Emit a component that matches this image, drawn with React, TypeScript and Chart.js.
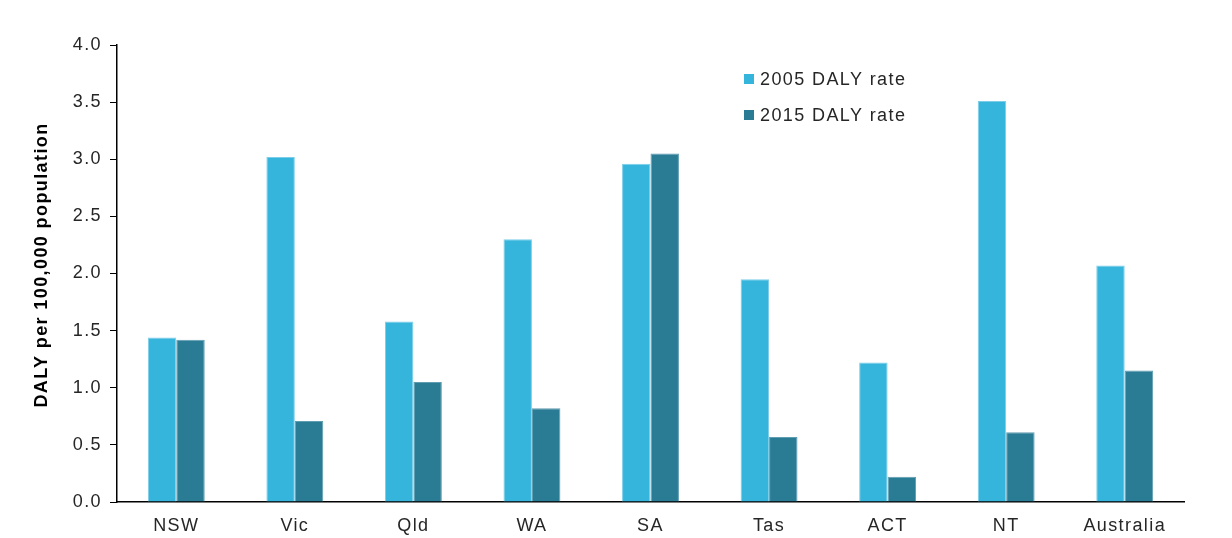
import React, { useEffect, useRef } from "react";
import { Chart, registerables } from "chart.js";

Chart.register(...registerables);

const categories = ["NSW", "Vic", "Qld", "WA", "SA", "Tas", "ACT", "NT", "Australia"];
const rate2005 = [1.44, 3.02, 1.58, 2.30, 2.96, 1.95, 1.22, 3.51, 2.07];
const rate2015 = [1.42, 0.71, 1.05, 0.82, 3.05, 0.57, 0.22, 0.61, 1.15];
const seriesLabels = ["2005 DALY rate", "2015 DALY rate"];
const yTitle = "DALY per 100,000 population";

const FONT = "'Liberation Sans', Arial, sans-serif";
const SPACING = "1.4px";
const FS = 18;
const TEXT = "#262626";
const C2005 = "#35b4dc";
const C2015 = "#2a7c95";

const spacingPlugin = {
  id: "spacing",
  afterInit(chart: any) { chart.ctx.letterSpacing = SPACING; },
  beforeUpdate(chart: any) { chart.ctx.letterSpacing = SPACING; },
  beforeLayout(chart: any) { chart.ctx.letterSpacing = SPACING; },
  beforeDraw(chart: any) { chart.ctx.letterSpacing = SPACING; },
};

const extrasPlugin = {
  id: "extras",
  afterDraw(chart: any) {
    const ctx = chart.ctx;
    ctx.save();
    ctx.letterSpacing = SPACING;
    // legend
    const colors = [C2005, C2015];
    const rowsY = [79, 115];
    ctx.font = `${FS}px ${FONT}`;
    ctx.textBaseline = "middle";
    ctx.textAlign = "left";
    seriesLabels.forEach((lab, i) => {
      ctx.fillStyle = colors[i];
      ctx.fillRect(744, rowsY[i] - 5, 10, 10);
      ctx.fillStyle = TEXT;
      ctx.fillText(lab, 760, rowsY[i] + 1);
    });
    // y-axis title
    ctx.translate(42, 265);
    ctx.rotate(-Math.PI / 2);
    ctx.font = `bold ${FS}px ${FONT}`;
    ctx.textAlign = "center";
    ctx.textBaseline = "middle";
    ctx.fillStyle = "#000";
    ctx.fillText(yTitle, 0, 0);
    ctx.restore();
  },
};

export default function App() {
  const ref = useRef<HTMLCanvasElement | null>(null);
  useEffect(() => {
    document.body.style.margin = "0";
    Chart.defaults.font.family = FONT;
    Chart.defaults.font.size = FS;
    Chart.defaults.color = TEXT;
    const chart = new Chart(ref.current as HTMLCanvasElement, {
      type: "bar",
      data: {
        labels: categories,
        datasets: [
          {
            label: seriesLabels[0],
            data: rate2005,
            backgroundColor: C2005,
            borderColor: "#7ccde9",
            borderWidth: 1,
            borderSkipped: "bottom",
            categoryPercentage: 0.48,
            barPercentage: 1.0,
          },
          {
            label: seriesLabels[1],
            data: rate2015,
            backgroundColor: C2015,
            borderColor: "#5f9db1",
            borderWidth: 1,
            borderSkipped: "bottom",
            categoryPercentage: 0.48,
            barPercentage: 1.0,
          },
        ],
      },
      options: {
        responsive: false,
        animation: false,
        devicePixelRatio: 1,
        layout: { padding: { top: 45, right: 48, left: 0, bottom: 0 } },
        plugins: {
          legend: { display: false },
          tooltip: { enabled: false },
        },
        scales: {
          x: {
            grid: { display: false, drawTicks: false },
            border: { display: true, color: "#000", width: 1.5 },
            ticks: { padding: 13, color: TEXT, font: { size: FS } },
            afterFit(scale: any) { scale.height = 36; },
          },
          y: {
            min: 0,
            max: 4,
            grid: {
              display: true,
              drawOnChartArea: false,
              drawTicks: true,
              tickLength: 7,
              color: "#000",
              lineWidth: 1,
            },
            border: { display: true, color: "#000", width: 1.5 },
            ticks: {
              stepSize: 0.5,
              padding: 8,
              color: TEXT,
              font: { size: FS },
              callback: (v: any) => Number(v).toFixed(1),
            },
            afterFit(scale: any) { scale.width = 117; },
          },
        },
      },
      plugins: [spacingPlugin, extrasPlugin],
    });
    return () => chart.destroy();
  }, []);
  return <canvas ref={ref} width={1232} height={538} style={{ display: "block" }} />;
}
